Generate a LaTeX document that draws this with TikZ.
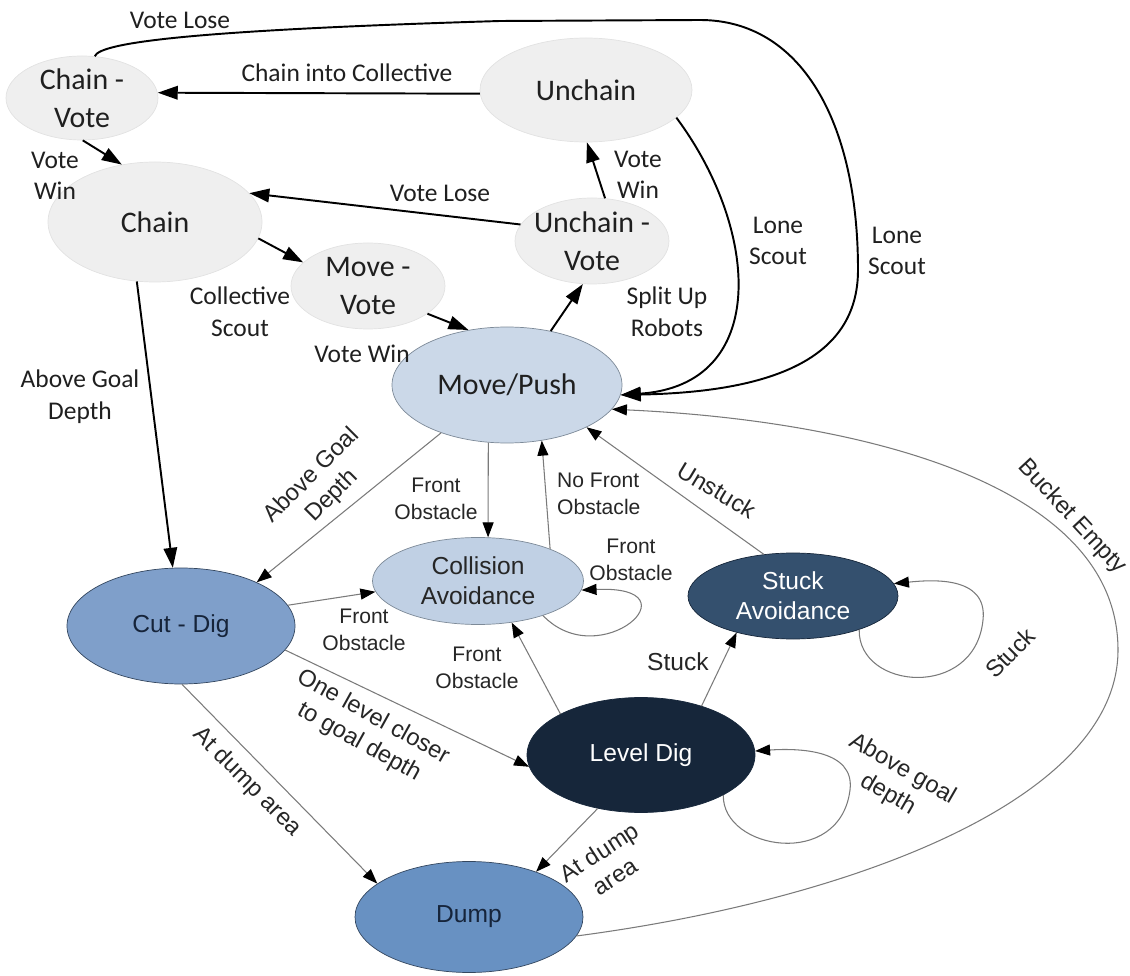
\documentclass[tikz,border=0pt]{standalone}
\usepackage{fontspec}
\setmainfont{Carlito}
\newfontfamily\arialfont{Liberation Sans}
\usepackage{tikz}
\usetikzlibrary{arrows.meta,shapes.geometric}

\definecolor{votegray}{HTML}{EFEFEF}
\definecolor{voteline}{HTML}{E2E2E2}
\definecolor{movefill}{HTML}{CBD8E8}
\definecolor{collfill}{HTML}{C0D0E4}
\definecolor{moveline}{HTML}{7D8A98}
\definecolor{cutfill}{HTML}{7F9FCA}
\definecolor{dumpfill}{HTML}{6891C2}
\definecolor{digline}{HTML}{34475F}
\definecolor{digtext}{HTML}{16243A}
\definecolor{stuckfill}{HTML}{34506E}
\definecolor{levelfill}{HTML}{16263A}
\definecolor{linegray}{HTML}{7A7A7A}

\begin{document}
\begin{tikzpicture}[x=0.02cm, y=-0.02cm,
    ellsize/.style 2 args={minimum width=#1*0.02cm, minimum height=#2*0.02cm},
    vote/.style={ellipse, fill=votegray, draw=voteline, inner sep=-12pt, align=center, text=black!88,
        font=\fontsize{17}{21.5}\selectfont},
    pushstate/.style={vote, fill=movefill, draw=moveline},
    lowstate/.style={ellipse, fill=#1, draw=moveline, inner sep=-12pt, align=center, text=black!85,
        font=\arialfont\fontsize{14}{17}\selectfont},
    digstate/.style={lowstate=#1, draw=digline, text=digtext},
    darkstate/.style={lowstate=#1, draw=levelfill, text=white},
    toparrow/.style={-{Triangle[length=4mm,width=2.7mm]}, line width=1.1pt},
    lowarrow/.style={-{Triangle[length=3mm,width=2.2mm,color=black]}, draw=linegray, line width=0.6pt},
    toplabel/.style={align=center, text=black!88, font=\fontsize{14.5}{18}\selectfont},
    lowlabel/.style={align=center, text=black!85, font=\arialfont\fontsize{12}{15}\selectfont},
    tiltlabel/.style={align=center, text=black!85, rotate=#1, font=\arialfont\fontsize{13.5}{16.5}\selectfont},
]
\useasboundingbox (0,0) rectangle (1130,976);

% voting states
\node[vote, ellsize={152}{84}] (chainvote) at (82,98) {Chain -\\Vote};
\node[vote, ellsize={212}{104}] (unchain) at (586,90) {Unchain};
\node[vote, ellsize={214}{120}] (chain) at (155,222) {Chain};
\node[vote, ellsize={154}{86}] (unchainvote) at (592,241) {Unchain -\\Vote};
\node[vote, ellsize={154}{86}] (movevote) at (368,286) {Move -\\Vote};
\node[pushstate, ellsize={230}{116}] (push) at (507,385) {Move/Push};

% digging states
\node[lowstate=collfill, ellsize={211}{87}] (collision) at (478,581) {Collision\\Avoidance};
\node[darkstate=stuckfill, ellsize={210}{86}] (stuck) at (793,596) {Stuck\\Avoidance};
\node[digstate=cutfill, ellsize={228}{116}] (cutdig) at (181,626) {Cut - Dig};
\node[darkstate=levelfill, ellsize={228}{115}] (leveldig) at (641,755) {Level Dig};
\node[digstate=dumpfill, ellsize={228}{111}] (dump) at (469,917) {Dump};

% top transitions
\draw[toparrow] (chainvote.-89) -- (chain.120);
\draw[toparrow] (chain.-9) -- (movevote.160);
\draw[toparrow] (unchain.182) -- (chainvote.4);
\draw[toparrow] (unchainvote.167) -- (chain.17);
\draw[toparrow] (unchainvote.73) -- (unchain.-89);
\draw[toparrow] (movevote.-25) -- (push.125);
\draw[toparrow] (push.51) -- (unchainvote.-102);
\draw[toparrow] (chain.-107) -- (cutdig.98);
\draw[toparrow] (unchain.-17) .. controls (760,230) and (770,385) .. (push.-5);
\draw[toparrow] (chainvote.73) .. controls (100,42) and (200,30) .. (500,21) -- (700,20)
    .. controls (800,20) and (858,120) .. (858,270) .. controls (858,360) and (770,392) .. (push.-5);

\node[toplabel] (lbl-voteloseA) at (180,20) {Vote Lose};
\node[toplabel] (lbl-collective) at (347,73) {Chain into Collective};
\node[toplabel] (lbl-votewinA) at (55,176) {Vote\\Win};
\node[toplabel] (lbl-voteloseB) at (440,193) {Vote Lose};
\node[toplabel] (lbl-votewinB) at (638,175) {Vote\\Win};
\node[toplabel] (lbl-scout) at (240,312) {Collective\\Scout};
\node[toplabel] (lbl-split) at (667,312) {Split Up\\Robots};
\node[toplabel] (lbl-loneA) at (778,241) {Lone\\Scout};
\node[toplabel] (lbl-loneB) at (897,251) {Lone\\Scout};
\node[toplabel] (lbl-votewinC) at (362,354) {Vote Win};
\node[toplabel] (lbl-goalA) at (80,397) {Above Goal\\Depth};

% lower transitions
\draw[lowarrow] (push.-144) -- (cutdig.30);
\draw[lowarrow] (push.-108) -- (collision.77);
\draw[lowarrow] (collision.24) -- (push.-58);
\draw[lowarrow] (collision.-28) .. controls (600,675) and (700,585) .. (collision.-5);
\draw[lowarrow] (cutdig.11) -- (collision.-174);
\draw[lowarrow] (cutdig.-13) -- (leveldig.-174);
\draw[lowarrow] (cutdig.-89) -- (dump.160);
\draw[lowarrow] (leveldig.-129) -- (dump.34);
\draw[lowarrow] (leveldig.153) -- (collision.-51);
\draw[lowarrow] (leveldig.39) -- (stuck.-147);
\draw[lowarrow] (stuck.125) -- (push.-28);
\draw[lowarrow] (stuck.-27) .. controls (858,690) and (975,700) .. (983,620)
    .. controls (988,575) and (930,580) .. (stuck.7);
\draw[lowarrow] (leveldig.-26) .. controls (722,850) and (840,870) .. (850,790)
    .. controls (855,750) and (800,748) .. (leveldig.2);
\draw[lowarrow] (dump.-10) .. controls (850,900) and (1118,800) .. (1118,650)
    .. controls (1118,480) and (850,420) .. (push.-13);

\node[tiltlabel=45] (lbl-goalB) at (322,486) {Above Goal\\Depth};
\node[lowlabel] (lbl-frontA) at (436,499) {Front\\Obstacle};
\node[lowlabel, anchor=west, align=left] (lbl-nofront) at (551,494) {No Front\\Obstacle};
\node[lowlabel] (lbl-frontB) at (631,560) {Front\\Obstacle};
\node[lowlabel] (lbl-frontC) at (364,630) {Front\\Obstacle};
\node[lowlabel] (lbl-frontD) at (477,668) {Front\\Obstacle};
\node[tiltlabel=-31] (lbl-unstuck) at (717,490) {Unstuck};
\node[tiltlabel=0, font=\arialfont\fontsize{14}{17}\selectfont] (lbl-stuckA) at (678,662) {Stuck};
\node[tiltlabel=45] (lbl-stuckB) at (1010,653) {Stuck};
\node[tiltlabel=-47] (lbl-bucket) at (1072,517) {Bucket Empty};
\node[tiltlabel=-30] (lbl-goalC) at (895,782) {Above goal\\depth};
\node[tiltlabel=-29] (lbl-closer) at (366,730) {One level closer\\to goal depth};
\node[tiltlabel=-45] (lbl-dumpA) at (247,782) {At dump area};
\node[tiltlabel=33] (lbl-dumpB) at (607,864) {At dump\\area};
\end{tikzpicture}
\end{document}
